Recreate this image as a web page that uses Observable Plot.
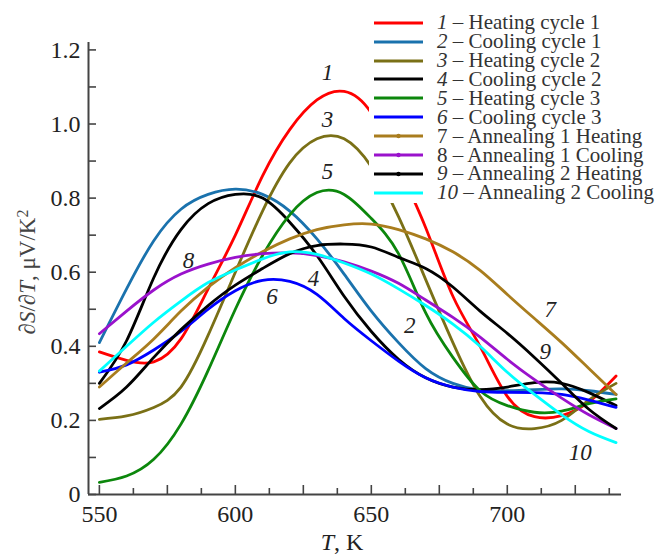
<!DOCTYPE html>
<html><head><meta charset="utf-8">
<script src="https://cdn.jsdelivr.net/npm/d3@7"></script>
<script src="https://cdn.jsdelivr.net/npm/@observablehq/plot@0.6"></script>
<style>
body{margin:0;background:#fff;}
#wrap{position:relative;width:658px;height:554px;font-family:"Liberation Serif","Times New Roman",serif;}
#legend{position:absolute;left:369px;top:9px;width:289px;height:194px;background:#fff;}
.row{position:absolute;left:0;height:19px;line-height:19px;display:flex;align-items:center;font-size:21px;color:#333;white-space:nowrap;}
.row svg{margin-left:5px;margin-right:14px;flex:none;}
</style></head><body><div id="wrap"><div id="plot"></div><div id="legend"></div></div>
<script>
// Temperatures (K)
const temps = [550,560,570,580,590,600,610,620,630,640,650,660,670,680,690,700,710,720,730,740];
// dS/dT values (µV/K²) per series
const c1  = [0.385,0.362,0.358,0.42,0.555,0.70,0.86,0.985,1.065,1.088,1.03,0.885,0.72,0.535,0.40,0.265,0.21,0.213,0.25,0.32];
const c2  = [0.41,0.555,0.685,0.77,0.81,0.824,0.81,0.765,0.69,0.595,0.495,0.41,0.34,0.30,0.282,0.28,0.283,0.285,0.28,0.27];
const c3  = [0.203,0.212,0.235,0.29,0.43,0.60,0.765,0.895,0.96,0.96,0.885,0.75,0.58,0.41,0.265,0.19,0.178,0.20,0.255,0.30];
const c4  = [0.30,0.415,0.585,0.715,0.785,0.81,0.80,0.735,0.645,0.535,0.44,0.365,0.315,0.29,0.283,0.29,0.302,0.30,0.275,0.24];
const c5  = [0.033,0.05,0.095,0.19,0.335,0.50,0.645,0.755,0.815,0.81,0.745,0.65,0.49,0.37,0.28,0.24,0.222,0.225,0.245,0.258];
const c6  = [0.33,0.35,0.39,0.44,0.50,0.55,0.578,0.575,0.54,0.475,0.415,0.36,0.315,0.29,0.278,0.276,0.275,0.27,0.255,0.235];
const c7  = [0.29,0.355,0.42,0.495,0.56,0.612,0.655,0.69,0.715,0.728,0.73,0.715,0.69,0.655,0.605,0.54,0.475,0.41,0.34,0.27];
const c8  = [0.434,0.495,0.552,0.595,0.622,0.64,0.65,0.652,0.645,0.628,0.603,0.57,0.525,0.478,0.425,0.365,0.31,0.26,0.215,0.178];
const c9  = [0.232,0.29,0.37,0.445,0.51,0.565,0.61,0.65,0.672,0.676,0.668,0.64,0.61,0.56,0.495,0.435,0.37,0.30,0.23,0.178];
const c10 = [0.333,0.40,0.465,0.522,0.572,0.606,0.636,0.655,0.648,0.625,0.595,0.555,0.51,0.46,0.40,0.33,0.27,0.215,0.17,0.14];

const seriesValues = [c1,c2,c3,c4,c5,c6,c7,c8,c9,c10];
const seriesNums   = ["1","2","3","4","5","6","7","8","9","10"];
const seriesNames  = ["Heating cycle 1","Cooling cycle 1","Heating cycle 2","Cooling cycle 2","Heating cycle 3","Cooling cycle 3","Annealing 1 Heating","Annealing 1 Cooling","Annealing 2 Heating","Annealing 2 Cooling"];
const numItalic    = [true,true,true,true,true,true,false,false,true,true];
const seriesDot    = [false,false,false,false,false,false,true,true,true,false];
const colors       = ["#ff0000","#1a72ad","#7a7016","#000000","#0c870c","#0000ff","#a97d1e","#9a12cc","#000000","#00ffff"];

// Curve annotation labels
const labelText = ["1","3","5","8","6","4","2","7","9","10"];
const labelT    = [633.9,633.9,633.9,582.8,613.5,628.7,664.1,715.8,714.0,726.8];
const labelV    = [1.139,1.013,0.871,0.632,0.533,0.584,0.457,0.499,0.385,0.114];

// Ticks
const xMajor = [550,575,600,625,650,675,700,725];
const xMinor = [562.5,587.5,612.5,637.5,662.5,687.5,712.5,737.5];
const xLabels = [550,600,650,700];
const yTicks = [0,0.1,0.2,0.3,0.4,0.5,0.6,0.7,0.8,0.9,1.0,1.1,1.2];
const yLabels = [0,0.2,0.4,0.6,0.8,1.0,1.2];
const xDomain = [546,742];
const yDomain = [0,1.22];

const axisColor = "#444";
const lines = seriesValues.map((vals,i) =>
  Plot.line(temps.map((t,j)=>({T:t, v:vals[j]})), {x:"T", y:"v", stroke:colors[i], strokeWidth:2.8, curve:"natural"}));

const labels = labelText.map((s,i)=>({s, T:labelT[i], v:labelV[i]}));

const chart = Plot.plot({
  width:658, height:554,
  marginLeft:88, marginRight:37, marginTop:42, marginBottom:60,
  style:{fontFamily:"'Liberation Serif','Times New Roman',serif", background:"#fff", color:"#222"},
  x:{domain:xDomain},
  y:{domain:yDomain},
  marks:[
    ...lines,
    Plot.text(labels, {x:"T", y:"v", text:"s", fontSize:23, fontStyle:"italic", fill:"#222"}),
    Plot.ruleY([yDomain[0]], {stroke:axisColor, strokeWidth:2}),
    Plot.ruleX([xDomain[0]], {stroke:axisColor, strokeWidth:2}),
    Plot.axisX({ticks:xMajor, tickSize:9, dy:-9, tickFormat:()=>"", stroke:axisColor, strokeWidth:1.6, label:null}),
    Plot.axisX({ticks:xMinor, tickSize:6, dy:-6, tickFormat:()=>"", stroke:axisColor, strokeWidth:1.6, label:null}),
    Plot.axisX({ticks:xLabels, tickSize:0, tickPadding:10, fontSize:24, fill:"#222", label:null}),
    Plot.axisY({ticks:yTicks, tickSize:8, dx:8, tickFormat:()=>"", stroke:axisColor, strokeWidth:1.6, label:null}),
    Plot.axisY({ticks:yLabels, tickSize:0, tickPadding:8, fontSize:24, fill:"#222", label:null, tickFormat:d=> d===0 ? "0" : d.toFixed(1)})
  ]
});
document.getElementById("plot").appendChild(chart);

// Axis titles
const svg = d3.select(chart);
const xt = svg.append("text").attr("x",342).attr("y",550).attr("text-anchor","middle")
  .attr("font-size",24).attr("fill","#222");
xt.append("tspan").attr("font-style","italic").text("T");
xt.append("tspan").text(", K");

const yt = svg.append("text").attr("transform","translate(35,272) rotate(-90)").attr("text-anchor","middle")
  .attr("font-size",23).attr("fill","#444");
yt.append("tspan").text("∂");
yt.append("tspan").attr("font-style","italic").text("S");
yt.append("tspan").text("/∂");
yt.append("tspan").attr("font-style","italic").text("T");
yt.append("tspan").text(", μV/K");
yt.append("tspan").attr("dy","-0.45em").attr("font-size",16).text("2");

// Legend
const legend = d3.select("#legend");
seriesNames.forEach((name,i)=>{
  const row = legend.append("div").attr("class","row").style("top",(4.2 + i*18.9)+"px");
  const sw = row.append("svg").attr("width",49).attr("height",10);
  sw.append("line").attr("x1",0).attr("x2",49).attr("y1",5).attr("y2",5).attr("stroke",colors[i]).attr("stroke-width",3);
  if (seriesDot[i]) sw.append("circle").attr("cx",24.5).attr("cy",5).attr("r",2.2).attr("fill",colors[i]);
  const t = row.append("span");
  t.append("span").style("font-style", numItalic[i] ? "italic" : "normal").text(seriesNums[i]);
  t.append("span").text(" – " + name);
});
</script>
</body></html>
